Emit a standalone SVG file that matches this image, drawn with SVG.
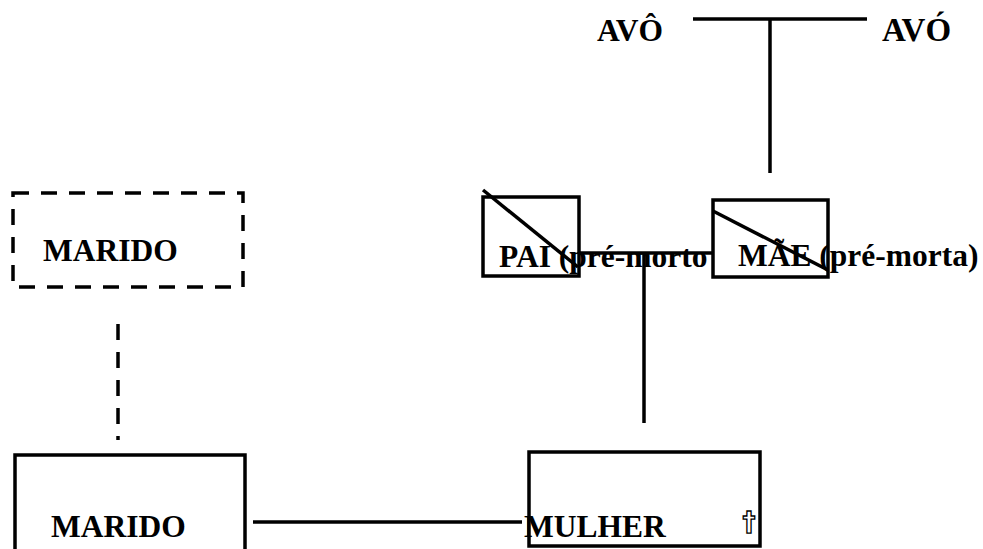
<svg xmlns="http://www.w3.org/2000/svg" width="983" height="549" viewBox="0 0 983 549">
<style>
.t{font-family:"Liberation Serif","Times New Roman",serif;font-weight:bold;font-size:31.5px;fill:#000}
.box{fill:#fff;stroke:#000;stroke-width:3.5}
.ln{fill:none;stroke:#000;stroke-width:3.5}
.dash{fill:none;stroke:#000;stroke-width:3.5;stroke-dasharray:16 12}
</style>
<rect width="983" height="549" fill="#fff"/>
<g id="connectors">
<line class="ln" x1="693" y1="19" x2="867" y2="19"/>
<line class="ln" x1="770" y1="19" x2="770" y2="173"/>
<line class="dash" x1="118" y1="324" x2="118" y2="440"/>
<line class="ln" x1="644" y1="253" x2="644" y2="423"/>
<line class="ln" x1="253" y1="522" x2="522" y2="522"/>
</g>
<g id="avo1"><text class="t" x="597" y="41">AVÔ</text></g>
<g id="avo2"><text class="t" x="882" y="41" style="font-size:33px">AVÓ</text></g>
<g id="marido-ex">
<rect class="dash" x="13" y="193" width="230" height="94"/>
<text class="t" x="43" y="261">MARIDO</text>
</g>
<g id="pai">
<rect class="box" x="483" y="197" width="96" height="79"/>
<text class="t" x="499" y="267">PAI (pré-morto</text>
<line class="ln" x1="483" y1="190" x2="578" y2="267"/>
</g>
<g id="mae">
<rect class="box" x="713" y="200" width="115" height="77"/>
<text class="t" x="738" y="266">MÃE (pré-morta)</text>
<line class="ln" x1="713" y1="211" x2="828" y2="270"/>
</g>
<line class="ln" x1="579" y1="253" x2="713" y2="253"/>
<g id="marido">
<rect class="box" x="15" y="455" width="230" height="100"/>
<text class="t" x="51" y="537">MARIDO</text>
</g>
<g id="mulher">
<rect class="box" x="529" y="452" width="231" height="94"/>
<text class="t" x="524" y="537">MULHER</text>
<text x="742.5" y="531" style="font-family:'DejaVu Sans',sans-serif;font-weight:bold;font-size:26px;fill:#fff;stroke:#000;stroke-width:1.3">†</text>
</g>
</svg>
